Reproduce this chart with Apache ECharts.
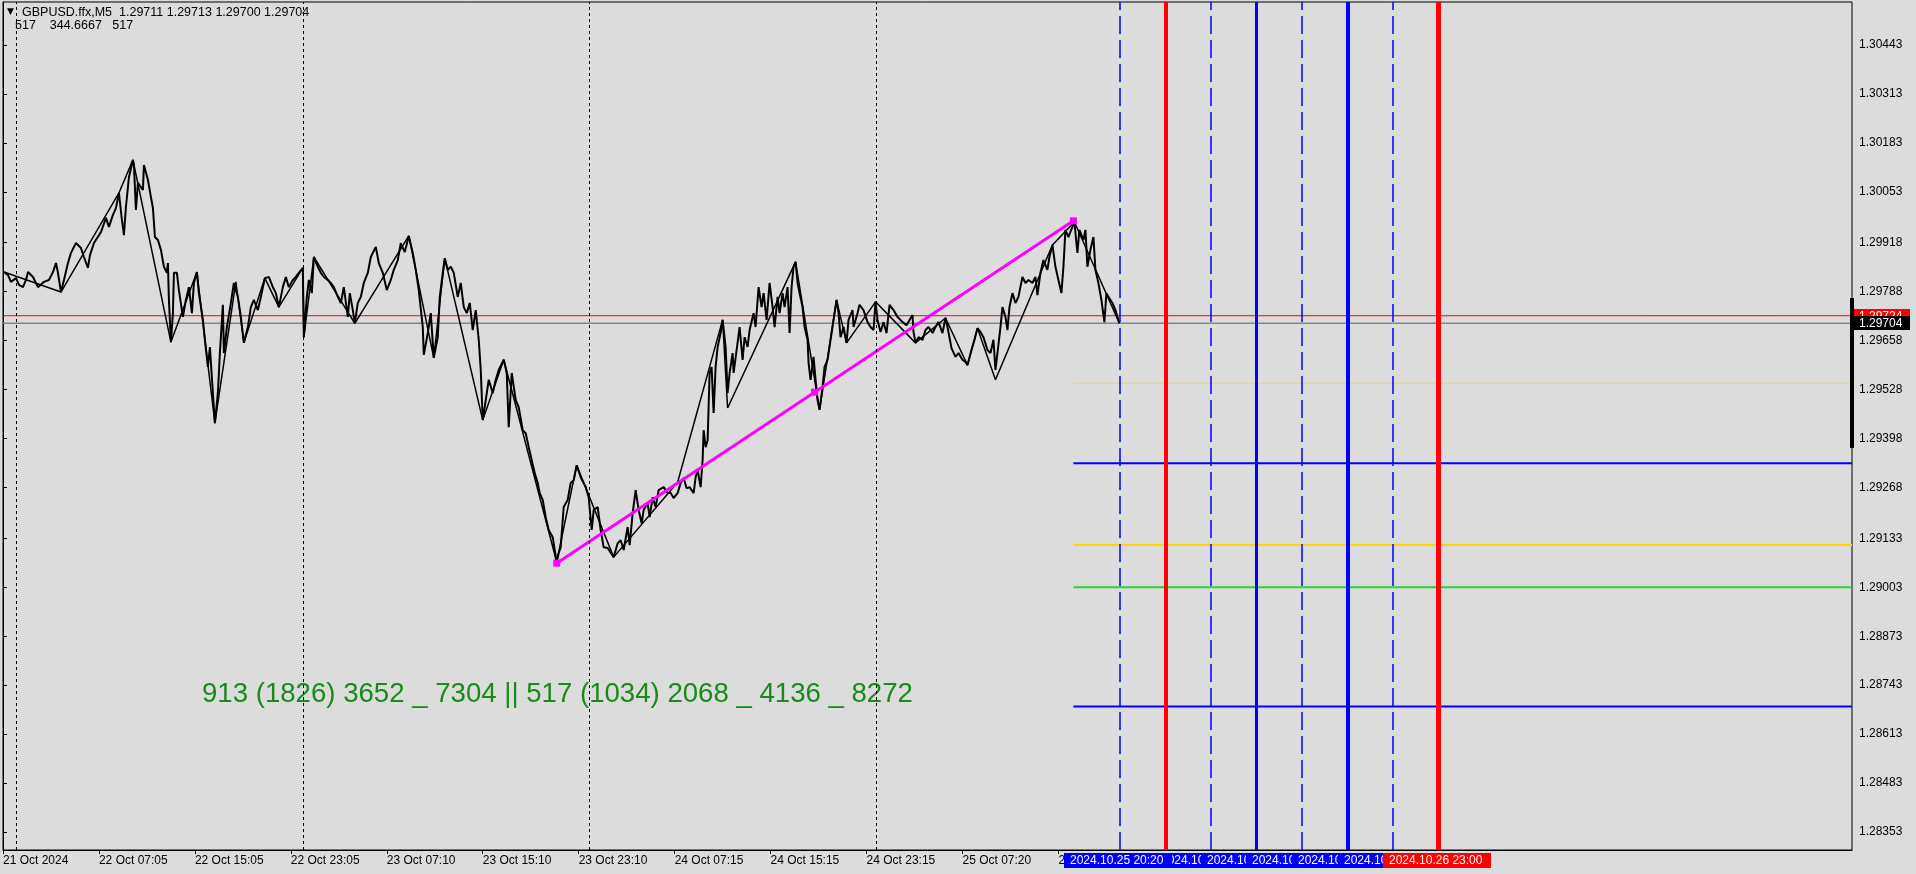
<!DOCTYPE html>
<html><head><meta charset="utf-8">
<script src="https://cdn.jsdelivr.net/npm/echarts@6/dist/echarts.min.js"></script>
<style>html,body{margin:0;padding:0;background:#DCDCDC;}#c{width:1916px;height:874px;}</style>
</head><body><div id="c"></div>
<script>
// ---- data (bar index, close price) ----
const closeA = [[1,1.29840],[5,1.29832],[8,1.29814],[13,1.29824],[16,1.29806],[20,1.29800],[23,1.29819],[25,1.29840],[30,1.29827],[35,1.29800],[37,1.29798],[41,1.29814],[46,1.29819],[50,1.29840],[53,1.29864],[55,1.29838],[58,1.29787],[61,1.29819],[65,1.29864],[68,1.29891],[73,1.29917],[78,1.29904],[81,1.29880],[85,1.29851],[87,1.29885],[91,1.29917],[98,1.29946],[103,1.29984],[106,1.29960],[110,1.29992],[113,1.30010],[116,1.30050],[119,1.29978],[121,1.29938],[123,1.30013],[126,1.30092],[130,1.30138],[131,1.30124],[133,1.30005],[135,1.30077],[140,1.30058],[141,1.30124],[145,1.30085],[148,1.30039],[150,1.30010],[152,1.29933],[155,1.29925],[158,1.29899],[161,1.29854],[164,1.29838],[165,1.29864],[166,1.29766],[168,1.29654],[170,1.29731],[171,1.29838],[174,1.29838],[176,1.29792],[180,1.29721],[183,1.29766],[186,1.29800],[189,1.29731],[191,1.29811],[194,1.29840],[196,1.29784],[200,1.29713],[202,1.29660],[205,1.29588],[207,1.29641],[210,1.29519],[212,1.29439],[215,1.29519],[217,1.29625],[220,1.29753],[221,1.29625],[224,1.29694],[228,1.29758],[231,1.29811],[233,1.29814],[235,1.29774],[238,1.29721],[241,1.29652],[245,1.29694],[248,1.29747],[251,1.29766],[255,1.29739],[258,1.29774],[262,1.29824],[266,1.29827],[270,1.29800],[273,1.29784],[276,1.29747]];
const closeB = [[280,1.29800],[283,1.29827],[286,1.29800],[290,1.29819],[293,1.29827],[296,1.29838],[300,1.29851],[301,1.29667],[304,1.29774],[306,1.29819],[309,1.29784],[311,1.29880],[315,1.29854],[318,1.29838],[321,1.29827],[325,1.29819],[328,1.29811],[331,1.29800],[335,1.29774],[338,1.29758],[341,1.29800],[345,1.29721],[347,1.29784],[350,1.29739],[352,1.29704],[355,1.29758],[358,1.29774],[361,1.29811],[365,1.29838],[368,1.29880],[373,1.29907],[376,1.29864],[380,1.29838],[384,1.29792],[388,1.29819],[391,1.29846],[395,1.29872],[398,1.29917],[402,1.29893],[406,1.29936],[410,1.29891],[413,1.29846],[416,1.29792],[420,1.29694],[421,1.29620],[425,1.29678],[428,1.29731],[431,1.29612],[435,1.29667],[437,1.29774],[440,1.29838],[442,1.29877],[445,1.29846],[448,1.29854],[451,1.29838],[455,1.29774],[458,1.29811],[461,1.29747],[464,1.29731],[467,1.29758],[470,1.29686],[473,1.29739],[476,1.29660],[478,1.29580],[480,1.29447],[483,1.29500],[486,1.29554],[490,1.29519],[493,1.29554],[496,1.29580],[501,1.29607],[504,1.29572],[506,1.29428],[509,1.29572],[513,1.29500],[516,1.29481],[520,1.29420],[523,1.29412],[526,1.29375],[529,1.29341],[532,1.29306],[535,1.29280],[537,1.29253],[540,1.29235],[543,1.29189],[546,1.29155],[550,1.29136],[552,1.29102],[554,1.29070],[556,1.29094]];
const closeC = [[558,1.29109],[561,1.29216],[565,1.29235],[568,1.29280],[571,1.29287],[574,1.29327],[578,1.29295],[583,1.29269],[586,1.29242],[589,1.29155],[591,1.29208],[595,1.29216],[598,1.29155],[601,1.29109],[605,1.29107],[611,1.29083],[615,1.29120],[618,1.29128],[621,1.29102],[625,1.29163],[627,1.29115],[630,1.29200],[633,1.29261],[636,1.29208],[639,1.29173],[641,1.29208],[645,1.29226],[647,1.29189],[650,1.29242],[653,1.29216],[656,1.29261],[661,1.29269],[665,1.29253],[668,1.29253],[671,1.29240],[675,1.29253],[678,1.29280],[681,1.29293],[684,1.29266],[687,1.29269],[691,1.29253],[693,1.29295],[695,1.29314],[698,1.29269],[700,1.29341],[701,1.29420],[703,1.29375],[705,1.29393],[707,1.29572],[709,1.29588],[711,1.29466],[713,1.29588],[715,1.29641],[718,1.29678],[720,1.29713],[723,1.29641],[725,1.29519],[727,1.29572],[730,1.29625],[731,1.29572],[734,1.29633],[737,1.29694],[740,1.29607],[742,1.29667],[745,1.29641],[747,1.29686],[751,1.29731],[753,1.29694],[756,1.29800],[759,1.29747],[761,1.29784],[764,1.29713],[767,1.29811],[770,1.29747],[772,1.29694],[775,1.29774],[777,1.29731],[780,1.29784],[782,1.29747],[785,1.29800],[787,1.29678],[789,1.29800],[791,1.29854],[793,1.29867],[795,1.29811],[797,1.29784],[800,1.29747],[802,1.29694],[805,1.29660],[806,1.29599],[808,1.29554],[811,1.29615],[813,1.29554],[815,1.29500],[817,1.29474],[820,1.29535],[822,1.29588],[825,1.29607],[828,1.29660],[831,1.29713],[834,1.29766],[836,1.29731]];
const closeD = [[838,1.29667],[841,1.29694],[844,1.29652],[846,1.29713],[850,1.29739],[851,1.29694],[855,1.29731],[857,1.29753],[861,1.29739],[865,1.29707],[868,1.29694],[871,1.29686],[873,1.29761],[875,1.29713],[878,1.29681],[881,1.29707],[884,1.29678],[887,1.29753],[891,1.29739],[895,1.29721],[900,1.29707],[904,1.29699],[910,1.29726],[911,1.29681],[913,1.29652],[916,1.29667],[920,1.29660],[923,1.29686],[926,1.29694],[930,1.29678],[933,1.29694],[936,1.29707],[940,1.29678],[943,1.29718],[945,1.29694],[949,1.29638],[953,1.29615],[956,1.29625],[960,1.29607],[963,1.29601],[965,1.29593],[969,1.29633],[972,1.29660],[975,1.29691],[978,1.29681],[981,1.29667],[985,1.29633],[988,1.29625],[991,1.29660],[993,1.29580],[995,1.29625],[998,1.29694],[1000,1.29747],[1003,1.29721],[1005,1.29686],[1007,1.29747],[1010,1.29784],[1013,1.29758],[1016,1.29774],[1020,1.29827],[1023,1.29811],[1026,1.29819],[1030,1.29811],[1033,1.29827],[1035,1.29779],[1038,1.29838],[1041,1.29872],[1045,1.29846],[1047,1.29880],[1050,1.29912],[1053,1.29854],[1056,1.29819],[1059,1.29784],[1061,1.29854],[1063,1.29952],[1066,1.29933],[1070,1.29960],[1072,1.29973],[1075,1.29891],[1077,1.29952],[1081,1.29925],[1083,1.29952],[1085,1.29854],[1088,1.29899],[1091,1.29933],[1093,1.29846],[1096,1.29811],[1099,1.29766],[1102,1.29707],[1104,1.29784],[1106,1.29774],[1110,1.29758],[1113,1.29739],[1117,1.29704]];
const zigzag = [[1,1.29840],[58,1.29787],[116,1.30050],[130,1.30138],[168,1.29654],[194,1.29840],[212,1.29439],[233,1.29814],[241,1.29652],[262,1.29824],[276,1.29747],[300,1.29851],[301,1.29667],[311,1.29880],[352,1.29704],[406,1.29936],[431,1.29612],[442,1.29877],[480,1.29447],[501,1.29607],[554,1.29070],[574,1.29327],[611,1.29083],[675,1.29282],[720,1.29713],[725,1.29479],[793,1.29867],[817,1.29474],[834,1.29766],[844,1.29652],[873,1.29761],[913,1.29652],[943,1.29718],[965,1.29593],[975,1.29691],[993,1.29554],[1050,1.29912],[1072,1.29973],[1117,1.29704]];
const trendBars = [554, 812, 1071];
const trendPrices = [1.29067, 1.29521, 1.29976];
const askPrice = 1.29724;
const bidPrice = 1.29704;
const levelStartBar = 1071;
const levelPrices = [1.29545, 1.29332, 1.29115, 1.29003, 1.28686];
const vLineBars = [1117, 1163, 1208, 1254, 1299, 1345, 1391, 1436];
const vLineLabels = ['2024.10.25 20:20','2024.10.26 00:10','2024.10.26 03:55','2024.10.26 07:45','2024.10.26 11:35','2024.10.26 15:25','2024.10.26 19:10','2024.10.26 23:00'];
const daySepBars = [13, 300, 587, 874];
const xTickBars = [0, 96, 192, 288, 384, 480, 576, 672, 768, 864, 960, 1056];
const xTickLabels = ['21 Oct 2024','22 Oct 07:05','22 Oct 15:05','22 Oct 23:05','23 Oct 07:10','23 Oct 15:10','23 Oct 23:10','24 Oct 07:15','24 Oct 15:15','24 Oct 23:15','25 Oct 07:20','25 Oct 15:20'];
const yTicks = [1.30443,1.30313,1.30183,1.30053,1.29918,1.29788,1.29658,1.29528,1.29398,1.29268,1.29133,1.29003,1.28873,1.28743,1.28613,1.28483,1.28353];
const scaleBarRange = [1.29771, 1.29373];
const headerLine1 = 'GBPUSD.ffx,M5  1.29711 1.29713 1.29700 1.29704';
const headerLine2 = '517    344.6667   517';
const infoText = '913 (1826) 3652 _ 7304 || 517 (1034) 2068 _ 4136 _ 8272';
const barCount = 1850;
const yMin = 1.283052, yMax = 1.305572;

// ---- styles ----
const FONT = '"Liberation Sans", Arial, sans-serif';
const levelStyles = [
  {color:'#E8D27A', width:1},
  {color:'#0000FF', width:2},
  {color:'#FFD700', width:2},
  {color:'#32CD32', width:2},
  {color:'#0000FF', width:2}
];
const vLineStyles = [
  {color:'#0000FF', width:1.5, type:[18,6]},
  {color:'#FF0000', width:4, type:'solid'},
  {color:'#0000FF', width:1.5, type:[18,6]},
  {color:'#0000FF', width:3, type:'solid'},
  {color:'#0000FF', width:1.5, type:[18,6]},
  {color:'#0000FF', width:4, type:'solid'},
  {color:'#0000FF', width:1.5, type:[18,6]},
  {color:'#FF0000', width:5, type:'solid'}
];
const boxFill = ['#0000FF','#0000FF','#0000FF','#0000FF','#0000FF','#0000FF','#0000FF','#FF0000'];

const chart = echarts.init(document.getElementById('c'), null, {renderer:'canvas'});

const closeData = closeA.concat(closeB, closeC, closeD);
const series = [];

series.push({type:'line', data:[[0,askPrice],[barCount,askPrice]], symbol:'none', lineStyle:{color:'#FF0000', width:1}, silent:true, z:1});
series.push({type:'line', data:[[0,bidPrice],[barCount,bidPrice]], symbol:'none', lineStyle:{color:'#7A8896', width:1.5}, silent:true, z:1});
levelPrices.forEach((p,i)=>{
  series.push({type:'line', data:[[levelStartBar,p],[barCount,p]], symbol:'none', lineStyle:{color:levelStyles[i].color, width:levelStyles[i].width}, silent:true, z:1});
});
series.push({type:'line', data:[], silent:true, z:1,
  markLine:{symbol:['none','none'], silent:true, label:{show:false}, animation:false,
    data: daySepBars.map(b=>({xAxis:b, lineStyle:{color:'#000', width:1, type:[3,3]}}))
      .concat(vLineBars.map((b,i)=>({xAxis:b, lineStyle:{color:vLineStyles[i].color, width:vLineStyles[i].width, type:vLineStyles[i].type}})))
  }});
series.push({type:'line', data:closeData, symbol:'none', lineStyle:{color:'#000', width:2}, silent:true, z:3});
series.push({type:'line', data:zigzag, symbol:'none', lineStyle:{color:'#000', width:1.5}, silent:true, z:3});
series.push({type:'line', data:trendBars.map((b,i)=>[b,trendPrices[i]]), symbol:'rect', symbolSize:7, showSymbol:true,
  itemStyle:{color:'#FF00FF'}, lineStyle:{color:'#FF00FF', width:3}, silent:true, z:4});
series.push({type:'line', data:[[barCount,scaleBarRange[0]],[barCount,scaleBarRange[1]]], symbol:'none', clip:false,
  lineStyle:{color:'#000', width:4}, silent:true, z:5});
// price tags on the right axis
series.push({type:'custom', coordinateSystem:'cartesian2d', clip:false, z:6, silent:true,
  data:[[barCount,askPrice,0],[barCount,bidPrice,1]],
  renderItem:(params, api)=>{
    const pt = api.coord([api.value(0), api.value(1)]);
    const idx = api.value(2);
    return {type:'group', children:[
      {type:'rect', shape:{x:pt[0]+2, y:Math.round(pt[1])-7, width:56, height:14}, style:{fill: idx===0?'#FF0000':'#000000'}},
      {type:'text', style:{text: api.value(1).toFixed(5), x:pt[0]+7, y:Math.round(pt[1])+1, verticalAlign:'middle', fill:'#FFFFFF', font:'12px '+FONT}}
    ]};
  }});
// time boxes on the x axis
const boxOrder = [1,2,3,4,5,6,7,0];
series.push({type:'custom', coordinateSystem:'cartesian2d', clip:false, z:6, silent:true,
  data: boxOrder.map(i=>[vLineBars[i], yMin, i]),
  renderItem:(params, api)=>{
    const pt = api.coord([api.value(0), api.value(1)]);
    const idx = api.value(2);
    return {type:'group', children:[
      {type:'rect', shape:{x:Math.round(pt[0])-55, y:pt[1]+3, width:108, height:15}, style:{fill: boxFill[idx]}},
      {type:'text', style:{text: vLineLabels[idx], x:Math.round(pt[0])-49, y:pt[1]+11, verticalAlign:'middle', fill:'#FFFFFF', font:'12px '+FONT}}
    ]};
  }});

chart.setOption({
  animation:false,
  backgroundColor:'#DCDCDC',
  textStyle:{fontFamily:FONT},
  grid:{left:2, right:64, top:2, bottom:24, show:true, borderColor:'#000', borderWidth:1, backgroundColor:'transparent'},
  xAxis:{type:'value', min:0, max:barCount, position:'bottom',
    axisLine:{show:true, lineStyle:{color:'#000', width:1}},
    axisTick:{show:true, customValues:xTickBars, length:4, lineStyle:{color:'#000'}},
    axisLabel:{show:true, customValues:xTickBars, align:'left', margin:5, color:'#000', fontSize:12, fontFamily:FONT,
      formatter:(v)=>{const i = xTickBars.indexOf(Math.round(v)); return i>=0?xTickLabels[i]:'';}},
    splitLine:{show:false}},
  yAxis:{type:'value', min:yMin, max:yMax, position:'right',
    axisLine:{show:true, lineStyle:{color:'#000', width:1}},
    axisTick:{show:true, customValues:yTicks, length:4, lineStyle:{color:'#000'}},
    axisLabel:{show:true, customValues:yTicks, margin:7, color:'#000', fontSize:12, fontFamily:FONT,
      formatter:(v)=>v.toFixed(5)},
    splitLine:{show:false}},
  graphic:[
    {type:'text', left:7, top:7, style:{text:'\u25BC', font:'9px "DejaVu Sans"', fill:'#000'}},
    {type:'text', left:22, top:6, style:{text:headerLine1, font:'12.5px '+FONT, fill:'#000'}},
    {type:'text', left:15, top:19, style:{text:headerLine2, font:'12.5px '+FONT, fill:'#000'}},
    {type:'text', left:202, top:680, style:{text:infoText, font:'27.6px '+FONT, fill:'#1A8A1A'}}
  ],
  series: series
});
</script>
</body></html>
